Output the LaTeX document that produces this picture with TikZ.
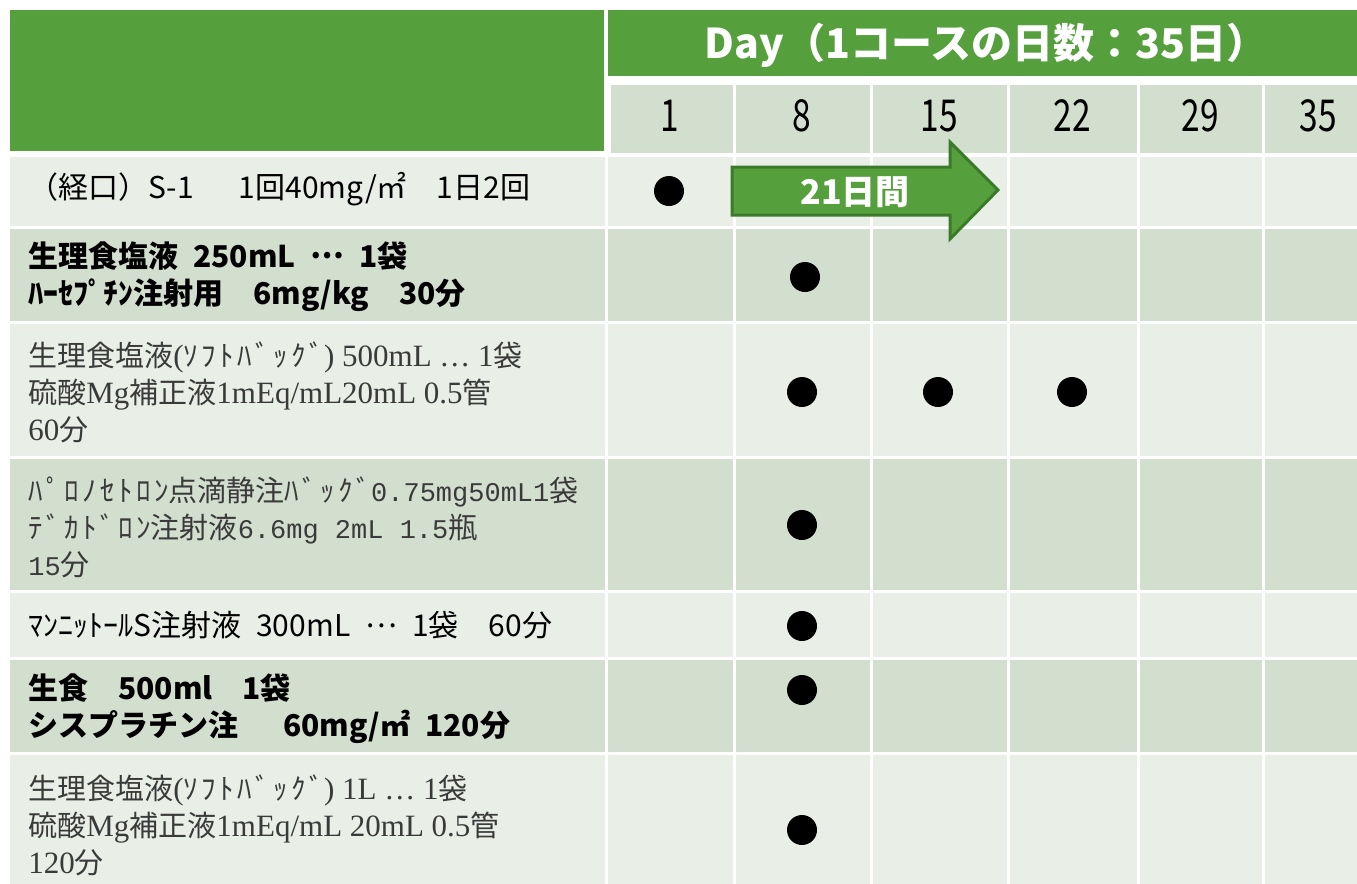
\documentclass[tikz,border=0pt]{standalone}
\usepackage{fontspec}
\usepackage{graphicx}
\newfontfamily\jp{Noto Sans CJK JP}
\newfontfamily\jpk{Noto Sans CJK JP}[LetterSpace=12]
\newfontfamily\ser{Liberation Serif}
\newfontfamily\mon{Liberation Mono}
\setmainfont{Noto Sans CJK JP}
\definecolor{hdr}{HTML}{55A03C}
\definecolor{rowA}{HTML}{E9EFE7}
\definecolor{rowB}{HTML}{D2DFCF}
\definecolor{arrowedge}{HTML}{3C7A2B}
\definecolor{txtgray}{HTML}{3A3A3A}
\newcommand\sr[1]{{\ser\fontsize{15.5}{18.5}\selectfont #1}}
\newcommand\mn[1]{{\mon\fontsize{13.5}{18.5}\selectfont #1}}
\newcommand\hk[1]{{\jpk #1}}
\newcommand\hs{\hspace{0.5em}}
\newcommand\mdots{\raisebox{0.3em}{…}}
\newcommand\dnum[1]{\scalebox{0.76}[1]{#1}}
\begin{document}
\begin{tikzpicture}[x=0.5pt,y=-0.5pt,
  lbl/.style={anchor=west, align=left, inner sep=0pt, font=\jp\fontsize{15}{18.5}\selectfont},
  lblbold/.style={lbl, font=\jp\bfseries\fontsize{15}{18.5}\selectfont},
  lblgray/.style={lbl, text=txtgray, font=\jp\fontsize{14.5}{18.5}\selectfont},
  daynum/.style={inner sep=0pt, font=\jp\fontsize{22}{24}\selectfont},
  dot/.style={circle, fill=black, inner sep=0pt, minimum size=15pt}]
\useasboundingbox (0,0) rectangle (1357,884);
\fill[white] (0,0) rectangle (1357,884);
% header
\fill[hdr] (10,10) rectangle (604,151);
\fill[hdr] (608,10) rectangle (1360,76);
\node[text=white, inner sep=0pt, font=\jp\bfseries\fontsize{20.5}{24}\selectfont] (dayhdr) at (986,45) {Day（1コースの日数：35日）};
% day row
\foreach \xa/\xb in {611/733,736/870,873/1007,1010/1137,1140/1262,1265/1360}{
  \fill[rowB] (\xa,85) rectangle (\xb,153);
}
% data rows
\foreach \ya/\yb/\c in {157/226/rowA, 229/321/rowB, 324/456/rowA, 459/590/rowB, 593/657/rowA, 660/752/rowB, 755/890/rowA}{
  \fill[\c] (10,\ya) rectangle (605,\yb);
  \foreach \xa/\xb in {608/733,736/870,873/1007,1010/1137,1140/1262,1265/1360}{
    \fill[\c] (\xa,\ya) rectangle (\xb,\yb);
  }
}
% day numbers
\node[daynum] (n1) at (670,116) {\dnum{1}};
\node[daynum] (n8) at (802,116) {\dnum{8}};
\node[daynum] (n15) at (939,116) {\dnum{15}};
\node[daynum] (n22) at (1072,116) {\dnum{22}};
\node[daynum] (n29) at (1200,116) {\dnum{29}};
\node[daynum] (n35) at (1318,116) {\dnum{35}};
% labels
\node[lbl] (r1) at (28,189) {（経口）S-1　\hs 1回40mg/㎡\hs\hs 1日2回};
\node[lblbold] (r2) at (28,277) {生理食塩液\hs 250mL\hs\mdots\hs 1袋\\ﾊｰｾﾌﾟﾁﾝ注射用\hs\hs 6mg/kg\hs\hs 30分};
\node[lblgray] (r3) at (28,392) {生理食塩液\sr{(}\hk{ｿﾌﾄﾊﾞｯｸﾞ}\sr{) 500mL … 1}袋\\硫酸\sr{Mg}補正液\sr{1mEq/mL20mL 0.5}管\\\sr{60}分};
\node[lblgray] (r4) at (28,527) {\hk{ﾊﾟﾛﾉｾﾄﾛﾝ}点滴静注\hk{ﾊﾞｯｸﾞ}\mn{0.75mg50mL1}袋\\\hk{ﾃﾞｶﾄﾞﾛﾝ}注射液\mn{6.6mg 2mL 1.5}瓶\\\mn{15}分};
\node[lbl] (r5) at (28,625) {ﾏﾝﾆｯﾄｰﾙS注射液\hs 300mL\hs\mdots\hs 1袋\hs\hs 60分};
\node[lblbold] (r6) at (28,709) {生食\hs\hs 500ml\hs\hs 1袋\\シスプラチン注\hs\hs\hs 60mg/㎡\hs 120分};
\node[lblgray] (r7) at (28,825) {生理食塩液\sr{(}\hk{ｿﾌﾄﾊﾞｯｸﾞ}\sr{) 1L … 1}袋\\硫酸\sr{Mg}補正液\sr{1mEq/mL 20mL 0.5}管\\\sr{120}分};
% arrow
\draw[fill=hdr, draw=arrowedge, line width=1.5pt, line join=miter]
  (732,167) -- (950,167) -- (950,142) -- (998,190) -- (950,239) -- (950,215) -- (732,215) -- cycle;
\node[text=white, inner sep=0pt, font=\jp\bfseries\fontsize{17}{20}\selectfont] (span) at (855,192) {21日間};
% dots
\node[dot] (d1) at (669,191) {};
\node[dot] (d2) at (805,277) {};
\node[dot] (d3a) at (802,392) {};
\node[dot] (d3b) at (938,392) {};
\node[dot] (d3c) at (1072,392) {};
\node[dot] (d4) at (802,525) {};
\node[dot] (d5) at (802,626) {};
\node[dot] (d6) at (802,690) {};
\node[dot] (d7) at (802,830) {};
\end{tikzpicture}
\end{document}
